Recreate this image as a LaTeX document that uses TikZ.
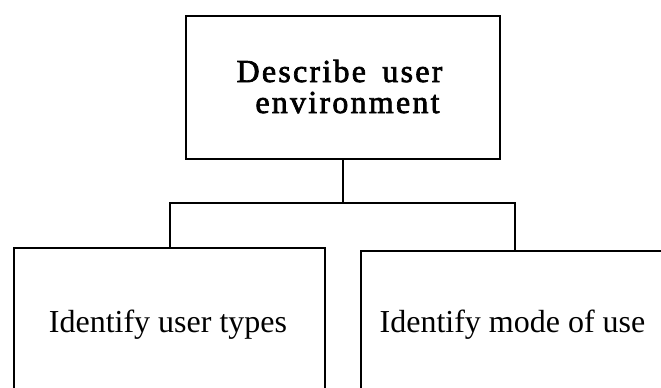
\documentclass[tikz,border=0pt]{standalone}
\usepackage{fontspec}
\setmainfont{Liberation Serif}
\newfontfamily\headfont[LetterSpace=7,FakeBold=2.2,WordSpace=1.6]{Liberation Serif}
\begin{document}
\begin{tikzpicture}[x=1pt,y=-1pt,
  box/.style={draw,line width=2pt,inner sep=0pt},
  conn/.style={draw,line width=2pt},
  boxtext/.style={anchor=base,inner sep=0pt,font=\fontsize{32}{38}\selectfont},
  headtext/.style={anchor=base,inner sep=0pt,font=\headfont\fontsize{32}{36}\selectfont}]
\useasboundingbox (0,0) rectangle (661,388);
\begin{scope}
\clip (0,0) rectangle (661,388);
% parent activity
\node[box,minimum width=314pt,minimum height=143pt,anchor=north west] (top) at (185,15) {};
\node[headtext] (t1) at (339.5,82) {Describe user};
\node[headtext] (t2) at (347.5,113) {environment};
% child activities
\node[box,minimum width=311pt,minimum height=150pt,anchor=north west] (lbox) at (13,247) {};
\node[box,minimum width=308pt,minimum height=146pt,anchor=north west] (rbox) at (360,250) {};
\node[boxtext] (l1) at (168,332) {Identify user types};
\node[boxtext] (r1) at (512.5,332) {Identify mode of use};
% tree connectors
\coordinate (fork) at (top.south |- 0,203);
\draw[conn] (top.south) -- (fork);
\draw[conn] (lbox.north) |- (fork) -| (rbox.north);
\end{scope}
\end{tikzpicture}
\end{document}
